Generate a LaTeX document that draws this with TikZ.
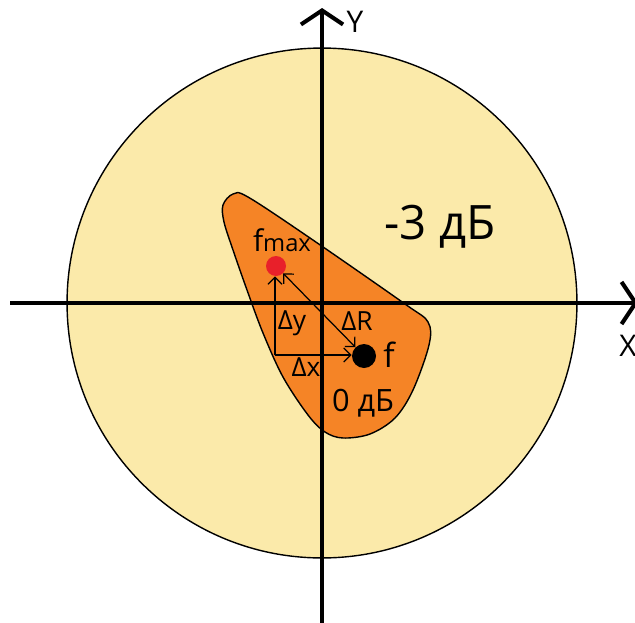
\documentclass[tikz,border=0pt]{standalone}
\usepackage{fontspec}
\setmainfont{Open Sans}
\usetikzlibrary{arrows.meta}
\definecolor{cpale}{HTML}{FBEAAA}
\definecolor{corange}{HTML}{F58426}
\definecolor{cred}{HTML}{E8202A}
\tikzset{
  axis/.style={line width=2.3pt, -{Straight Barb[length=8pt, width=24pt]}},
  delta/.style={line width=0.7pt, -{Straight Barb[length=4pt, width=8pt]}},
  dot/.style={circle, inner sep=0pt, minimum size=#1},
  lab/.style={inner sep=0pt, font=\fontsize{#1}{#1}\selectfont},
  lab/.default=15,
}

\begin{document}
\begin{tikzpicture}[x=0.02cm, y=-0.02cm]
  \useasboundingbox[fill=white] (0,0) rectangle (635,622);
  % -3 dB zone and 0 dB zone
  \filldraw[fill=cpale, draw=black, line width=0.8pt] (322,303) circle[radius=5.1cm];
  \filldraw[fill=corange, draw=black, line width=0.8pt]
    plot[smooth cycle, tension=0.55] coordinates {(223,205) (233,194) (248,197) (310,238) (405,304)
      (428,322) (429,345) (413,390) (395,418) (370,434) (343,438) (325,432) (308,415)
      (283,377) (263,333) (247,290) (233,250) (224,222)};
  % axes
  \coordinate (ytop) at (322,8);
  \coordinate (ybot) at (322,625);
  \coordinate (xl) at (10,303);
  \coordinate (xr) at (638,303);
  \draw[axis] (ybot) -- (ytop);
  \draw[axis] (xl) -- (xr);
  \node[lab=17] (ylab) at (355,22) {Y};
  \node[lab=17] (xlab) at (628,346) {X};
  % points
  \node[dot=0.4cm, fill=cred] (fmax) at (276,266) {};
  \node[dot=0.48cm, fill=black] (f) at (364,356) {};
  \coordinate (corner) at (275,355);
  \draw[delta] (corner) -- (corner |- fmax.south);
  \draw[delta] (corner) -- (corner -| f.west);
  \draw[delta, {Straight Barb[length=4pt, width=8pt]}-{Straight Barb[length=4pt, width=8pt]}] (fmax) -- (f);
  % labels
  \node[lab=17] (fmaxlab) at (282,240) {f{\fontsize{13.5}{13.5}\selectfont max}};
  \node[lab=19] (flab) at (389,355) {f};
  \node[lab] (dy) at (292,323) {Δy};
  \node[lab] (dx) at (306,367) {Δx};
  \node[lab] (dr) at (357,321) {ΔR};
  \node[lab=17.5] (zero) at (363,403) {0 дБ};
  \node[lab=27] (three) at (440,227) {-3 дБ};
\end{tikzpicture}
\end{document}
